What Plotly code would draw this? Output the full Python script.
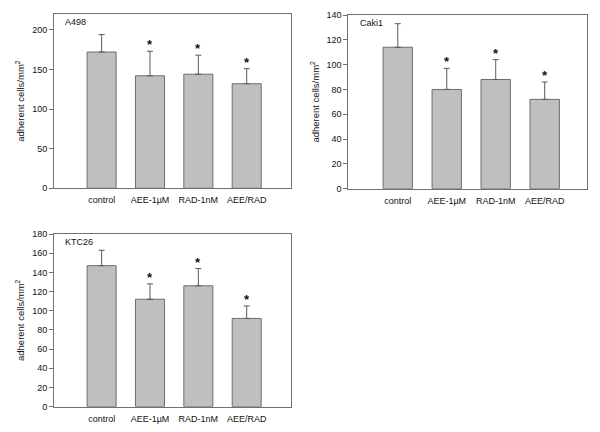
import plotly.graph_objects as go

categories = ["control", "AEE-1µM", "RAD-1nM", "AEE/RAD"]

a498_means = [172, 142, 144, 132]
a498_tops = [194, 173, 168, 151]

caki1_means = [114, 80, 88, 72]
caki1_tops = [133, 97, 104, 86]

ktc26_means = [147, 112, 126, 92]
ktc26_tops = [163, 128, 144, 105]

significant = [False, True, True, True]

panels = [
    ("A498", a498_means, a498_tops, [0, 220], 50, "x", "y"),
    ("Caki1", caki1_means, caki1_tops, [0, 140], 20, "x2", "y2"),
    ("KTC26", ktc26_means, ktc26_tops, [0, 180], 20, "x3", "y3"),
]

# page offset from default body margin
OFF = 8
W, H = 600 - OFF, 432 - OFF


def xd(a, b):
    return [(a - OFF) / W, (b - OFF) / W]


def yd(top, bottom):
    return [1 - (bottom - OFF) / H, 1 - (top - OFF) / H]


domains = {
    "x": (xd(54, 290.7), yd(14, 188.3), [-0.985, 3.91]),
    "x2": (xd(348.3, 587.3), yd(15, 188.7), [-1.01, 3.87]),
    "x3": (xd(54, 290.7), yd(234, 406.7), [-0.985, 3.91]),
}

FONT = "Liberation Sans, Arial, sans-serif"
AX = "#707070"

fig = go.Figure()
annotations = []
layout = {}

for name, means, tops, yr, dt, xa, ya in panels:
    errs = [t - m for t, m in zip(tops, means)]
    fig.add_trace(go.Bar(
        x=list(range(len(categories))), y=means, xaxis=xa, yaxis=ya,
        width=0.6,
        marker=dict(color="#bfbfbf", line=dict(color="#6e6e6e", width=1)),
        error_y=dict(type="data", array=errs, arrayminus=[0] * len(errs),
                     symmetric=False, color="#5a5a5a", thickness=1, width=3),
        showlegend=False,
    ))
    xdom, ydom, xr = domains[xa]
    xkey = "xaxis" if xa == "x" else "xaxis" + xa[1:]
    ykey = "yaxis" if ya == "y" else "yaxis" + ya[1:]
    layout[xkey] = dict(
        domain=xdom, anchor=ya, range=xr, automargin=False,
        tickmode="array", tickvals=list(range(len(categories))), ticktext=categories,
        showline=True, linecolor=AX, linewidth=1, mirror=True,
        showgrid=False, zeroline=False, ticks="", ticklabelstandoff=3,
        tickfont=dict(family=FONT, size=9, color="#111"),
    )
    layout[ykey] = dict(
        domain=ydom, anchor=xa, range=yr, dtick=dt, automargin=False,
        showline=True, linecolor=AX, linewidth=1, mirror=True,
        showgrid=False, zeroline=False, ticks="outside", ticklen=4, tickcolor=AX,
        tickfont=dict(family=FONT, size=9, color="#111"),
        title=dict(text="adherent cells/mm<sup>2</sup>", standoff=5,
                   font=dict(family=FONT, size=9.5, color="#111")),
    )
    annotations.append(dict(
        text=name, xref=xa + " domain", yref=ya + " domain", x=0.04, y=0.955,
        xanchor="left", yanchor="middle", showarrow=False,
        font=dict(family=FONT, size=9, color="#111"),
    ))
    for i, (t, s) in enumerate(zip(tops, significant)):
        if s:
            annotations.append(dict(
                text="<b>*</b>", xref=xa, yref=ya, x=i, y=t,
                xanchor="center", yanchor="bottom", yshift=-3, showarrow=False,
                font=dict(family=FONT, size=13, color="#111"),
            ))

fig.update_layout(
    width=W, height=H,
    template="none",
    margin=dict(l=0, r=0, t=0, b=0),
    paper_bgcolor="white", plot_bgcolor="white",
    annotations=annotations,
    bargap=0.4,
    **layout,
)

fig.write_html("out.html")
